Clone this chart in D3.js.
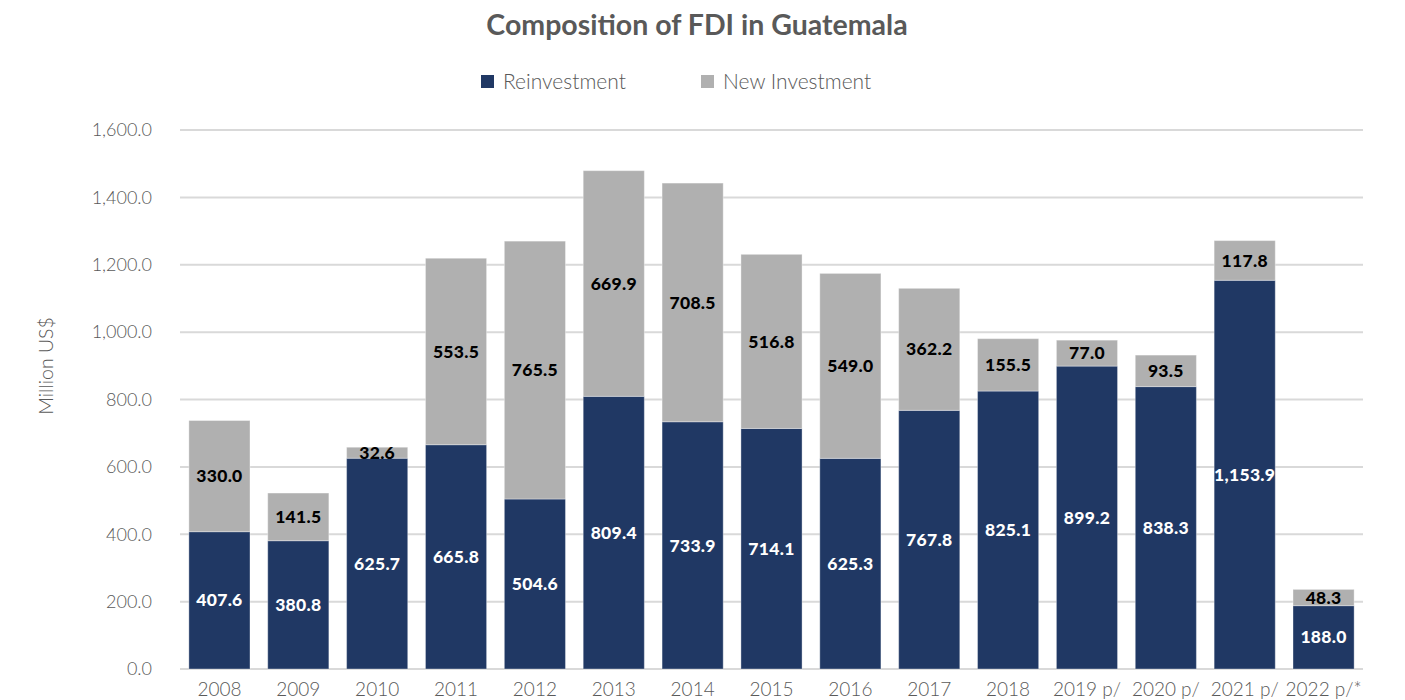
<!DOCTYPE html>
<html>
<head>
<meta charset="utf-8">
<script src="https://cdn.jsdelivr.net/npm/d3@7"></script>
<style>
  html, body { margin: 0; padding: 0; background: #fff; }
  svg { display: block; }
</style>
</head>
<body>
<svg id="chart" width="1405" height="700"></svg>
<script>
// FDI composition by year, million US$
const years = ["2008","2009","2010","2011","2012","2013","2014","2015","2016","2017","2018","2019 p/","2020 p/","2021 p/","2022 p/*"];
const reinvestment = [407.6,380.8,625.7,665.8,504.6,809.4,733.9,714.1,625.3,767.8,825.1,899.2,838.3,1153.9,188.0];
const newInvestment = [330.0,141.5,32.6,553.5,765.5,669.9,708.5,516.8,549.0,362.2,155.5,77.0,93.5,117.8,48.3];
const seriesNames = ["Reinvestment","New Investment"];
const yTicks = [0,200,400,600,800,1000,1200,1400,1600];

const colors = { "Reinvestment": "#203864", "New Investment": "#b0b0b0" };
const labelColors = { "Reinvestment": "#ffffff", "New Investment": "#000000" };
const lightFont = "Lato, 'Open Sans', sans-serif";
const boldFont = "Lato, 'Open Sans', sans-serif";

const svg = d3.select("#chart");
const plot = { left: 180, right: 1363, top: 130, bottom: 669 };

const rows = years.map((y, i) => ({ year: y, "Reinvestment": reinvestment[i], "New Investment": newInvestment[i] }));
const stacked = d3.stack().keys(seriesNames)(rows);

const x = d3.scaleBand().domain(years).range([plot.left, plot.right]).paddingInner(0.225).paddingOuter(0.1125);
const y = d3.scaleLinear().domain([0, 1600]).range([plot.bottom, plot.top]);

// Title
svg.append("text")
  .attr("x", 697).attr("y", 35)
  .attr("text-anchor", "middle")
  .attr("font-family", boldFont).attr("font-weight", 700)
  .attr("font-size", 28.5).attr("fill", "#595959")
  .text("Composition of FDI in Guatemala");

// Legend
const legendX = [481, 701];
seriesNames.forEach((name, i) => {
  const g = svg.append("g").attr("transform", `translate(${legendX[i]},75)`);
  g.append("rect").attr("width", 13).attr("height", 13).attr("fill", colors[name]);
  g.append("text").attr("x", 22).attr("y", 14)
    .attr("font-family", lightFont).attr("font-weight", 300)
    .attr("font-size", 21).attr("fill", "#595959")
    .text(name);
});

// Gridlines
svg.append("g").selectAll("line").data(yTicks).join("line")
  .attr("x1", plot.left).attr("x2", plot.right)
  .attr("y1", d => y(d)).attr("y2", d => y(d))
  .attr("stroke", "#d9d9d9").attr("stroke-width", 2);

// Y axis
const yAxis = svg.append("g").attr("transform", `translate(${plot.left - 28},0)`)
  .call(d3.axisLeft(y).tickValues(yTicks).tickSize(0).tickPadding(0).tickFormat(d3.format(",.1f")));
yAxis.select(".domain").remove();
yAxis.selectAll("text")
  .attr("font-family", lightFont).attr("font-weight", 300)
  .attr("font-size", 18).attr("fill", "#595959");

svg.append("text")
  .attr("transform", "translate(53,366) rotate(-90)")
  .attr("text-anchor", "middle")
  .attr("font-family", lightFont).attr("font-weight", 300)
  .attr("font-size", 19.5).attr("fill", "#595959")
  .text("Million US$");

// X axis
const xAxis = svg.append("g").attr("transform", `translate(0,${plot.bottom + 13})`)
  .call(d3.axisBottom(x).tickSize(0).tickPadding(0));
xAxis.select(".domain").remove();
xAxis.selectAll("text")
  .attr("dy", "0.71em")
  .attr("font-family", lightFont).attr("font-weight", 300)
  .attr("font-size", 19).attr("fill", "#595959");

// Bars
const layers = svg.append("g").selectAll("g").data(stacked).join("g")
  .attr("fill", d => colors[d.key]);
layers.selectAll("rect").data(d => d).join("rect")
  .attr("x", d => x(d.data.year))
  .attr("width", x.bandwidth())
  .attr("y", d => y(d[1]))
  .attr("height", d => y(d[0]) - y(d[1]))
  .attr("stroke", "rgba(255,255,255,0.35)").attr("stroke-width", 1);

// Value labels
const labels = svg.append("g").selectAll("g").data(stacked).join("g");
labels.selectAll("text").data(d => d.map(v => ({ key: d.key, v }))).join("text")
  .attr("x", d => x(d.v.data.year) + x.bandwidth() / 2)
  .attr("y", d => (y(d.v[0]) + y(d.v[1])) / 2)
  .attr("dy", "0.35em")
  .attr("text-anchor", "middle")
  .attr("font-family", boldFont).attr("font-weight", 900)
  .attr("font-size", 17.5).attr("letter-spacing", 0.3)
  .attr("fill", d => labelColors[d.key])
  .text(d => d3.format(",.1f")(d.v.data[d.key]));
</script>
</body>
</html>
